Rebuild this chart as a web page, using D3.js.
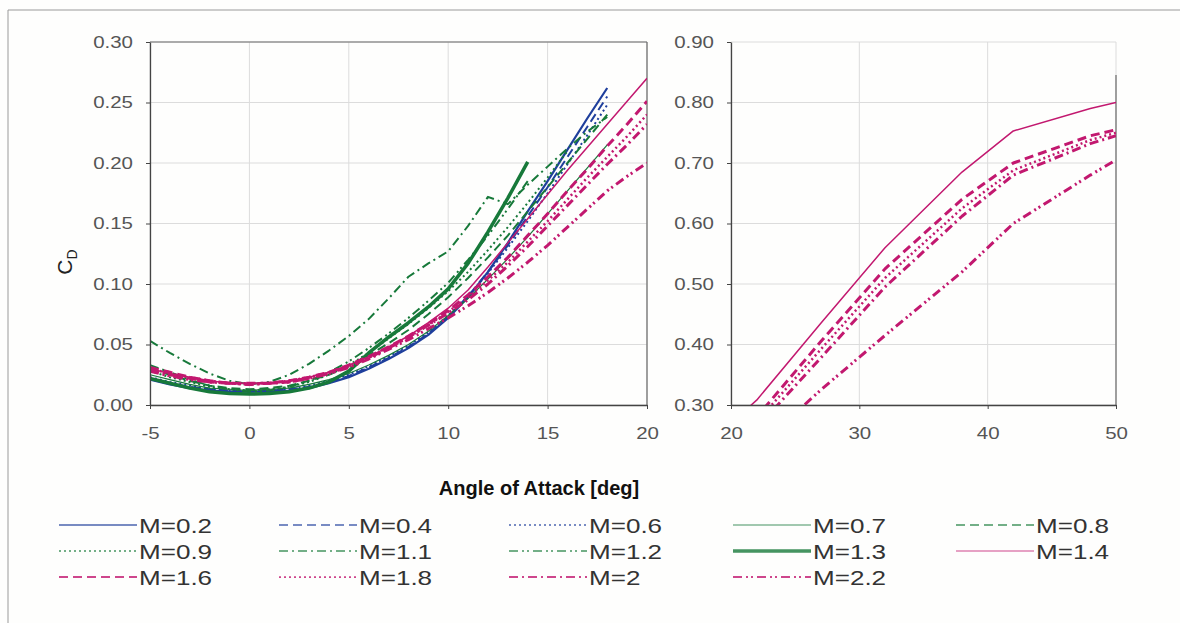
<!DOCTYPE html>
<html>
<head>
<meta charset="utf-8">
<script src="https://cdn.jsdelivr.net/npm/d3@7"></script>
<style>
  html, body { margin: 0; padding: 0; background: #fefefd; }
  svg { display: block; font-family: "Liberation Sans", Arial, sans-serif; }
</style>
</head>
<body>
<svg id="chart" width="1180" height="623"></svg>
<script>
// ---------- DATA ----------
const xLeft  = [-5,-4,-3,-2,-1,0,1,2,3,4,5,6,7,8,9,10,11,12,13,14,15,16,17,18,19,20];
const xRight = [20,22,27,32,38,42,48,50];

const leftXTicks  = [-5,0,5,10,15,20];
const leftYTicks  = [0,0.05,0.10,0.15,0.20,0.25,0.30];
const rightXTicks = [20,30,40,50];
const rightYTicks = [0.30,0.40,0.50,0.60,0.70,0.80,0.90];

const machLabels = ["M=0.2","M=0.4","M=0.6","M=0.7","M=0.8","M=0.9","M=1.1","M=1.2","M=1.3","M=1.4","M=1.6","M=1.8","M=2","M=2.2"];

// C_D values (left panel, starting at -5 deg)
const cdM02 = [0.021,0.017,0.014,0.012,0.011,0.011,0.011,0.012,0.014,0.018,0.023,0.030,0.038,0.047,0.058,0.072,0.089,0.110,0.134,0.160,0.185,0.211,0.237,0.262];
const cdM04 = [0.022,0.018,0.015,0.013,0.012,0.011,0.012,0.013,0.015,0.019,0.024,0.031,0.039,0.048,0.059,0.073,0.090,0.110,0.132,0.156,0.180,0.205,0.230,0.255];
const cdM06 = [0.023,0.019,0.016,0.013,0.012,0.012,0.012,0.013,0.016,0.020,0.025,0.032,0.040,0.049,0.060,0.074,0.090,0.109,0.130,0.152,0.175,0.199,0.223,0.248];
const cdM07 = [0.025,0.021,0.017,0.014,0.013,0.012,0.013,0.014,0.017,0.021,0.026,0.033,0.041,0.050,0.061,0.074,0.088,0.104,0.121,0.139,0.158,0.177,0.196,0.215];
const cdM08 = [0.030,0.025,0.020,0.016,0.014,0.013,0.014,0.016,0.020,0.025,0.032,0.041,0.051,0.062,0.075,0.089,0.105,0.122,0.140,0.160,0.180,0.200,0.220,0.240];
const cdM09 = [0.028,0.023,0.019,0.015,0.013,0.012,0.013,0.015,0.019,0.025,0.033,0.043,0.055,0.067,0.080,0.094,0.110,0.128,0.147,0.167,0.188,0.210];
const cdM11 = [0.053,0.043,0.034,0.026,0.020,0.017,0.019,0.025,0.034,0.045,0.057,0.071,0.088,0.106,0.117,0.127,0.148,0.172,0.166,0.182,0.197,0.212,0.226,0.238];
const cdM12 = [0.033,0.027,0.021,0.016,0.013,0.011,0.012,0.015,0.020,0.027,0.036,0.047,0.059,0.072,0.086,0.101,0.120,0.140,0.162,0.185];
const cdM13 = [0.022,0.018,0.014,0.011,0.0095,0.009,0.0095,0.011,0.014,0.019,0.028,0.043,0.056,0.068,0.081,0.096,0.117,0.143,0.171,0.201];
const cdM14 = [0.030,0.026,0.023,0.020,0.018,0.018,0.018,0.020,0.023,0.027,0.033,0.040,0.048,0.057,0.068,0.080,0.095,0.114,0.134,0.154,0.174,0.194,0.213,0.232,0.251,0.270];
const cdM16 = [0.031,0.027,0.023,0.020,0.018,0.018,0.018,0.020,0.023,0.027,0.033,0.040,0.048,0.057,0.067,0.078,0.091,0.106,0.122,0.140,0.158,0.177,0.195,0.214,0.232,0.251];
const cdM18 = [0.030,0.026,0.023,0.020,0.018,0.018,0.018,0.020,0.023,0.027,0.032,0.039,0.047,0.056,0.066,0.077,0.089,0.103,0.118,0.135,0.152,0.170,0.188,0.205,0.222,0.240];
const cdM20 = [0.029,0.025,0.022,0.019,0.018,0.017,0.018,0.019,0.022,0.026,0.032,0.039,0.047,0.056,0.066,0.076,0.087,0.100,0.115,0.131,0.148,0.165,0.182,0.199,0.215,0.232];
const cdM22 = [0.028,0.024,0.021,0.019,0.018,0.017,0.018,0.019,0.022,0.026,0.031,0.038,0.046,0.054,0.063,0.072,0.082,0.093,0.105,0.118,0.132,0.147,0.162,0.177,0.189,0.200];

// C_D values (right panel, 20..50 deg)
const cdHiM14 = [0.270,0.308,0.435,0.560,0.685,0.753,0.790,0.800];
const cdHiM16 = [0.251,0.280,0.405,0.525,0.640,0.700,0.745,0.755];
const cdHiM18 = [0.240,0.272,0.392,0.510,0.625,0.688,0.738,0.750];
const cdHiM20 = [0.232,0.262,0.378,0.495,0.612,0.680,0.732,0.745];
const cdHiM22 = [0.200,0.228,0.325,0.415,0.520,0.600,0.680,0.705];

// ---------- STYLES ----------
const BLUE = "#1f3f9c", GREEN = "#17793a", MAG = "#c2186f";
const DASH = "9,5", DOT = "2,3", DASHDOT = "9,4,2,4", DASHDOTDOT = "9,4,2,3,2,4";
const series = [
  {name: machLabels[0],  left: cdM02, right: null,    color: BLUE,  w: 2.2, dash: null},
  {name: machLabels[1],  left: cdM04, right: null,    color: BLUE,  w: 2,   dash: DASH},
  {name: machLabels[2],  left: cdM06, right: null,    color: BLUE,  w: 2,   dash: DOT},
  {name: machLabels[3],  left: cdM07, right: null,    color: GREEN, w: 1.2, dash: null},
  {name: machLabels[4],  left: cdM08, right: null,    color: GREEN, w: 2,   dash: DASH},
  {name: machLabels[5],  left: cdM09, right: null,    color: GREEN, w: 2,   dash: DOT},
  {name: machLabels[6],  left: cdM11, right: null,    color: GREEN, w: 2,   dash: DASHDOT},
  {name: machLabels[7],  left: cdM12, right: null,    color: GREEN, w: 2,   dash: DASHDOTDOT},
  {name: machLabels[8],  left: cdM13, right: null,    color: GREEN, w: 3.5, dash: null},
  {name: machLabels[9],  left: cdM14, right: cdHiM14, color: MAG,   w: 1.5, dash: null},
  {name: machLabels[10], left: cdM16, right: cdHiM16, color: MAG,   w: 3,   dash: DASH},
  {name: machLabels[11], left: cdM18, right: cdHiM18, color: MAG,   w: 2.5, dash: DOT},
  {name: machLabels[12], left: cdM20, right: cdHiM20, color: MAG,   w: 3,   dash: DASHDOT},
  {name: machLabels[13], left: cdM22, right: cdHiM22, color: MAG,   w: 3,   dash: DASHDOTDOT}
];

const svg = d3.select("#chart");
const fmt = d3.format(".2f");

// outer frame
svg.append("line").attr("x1", 8).attr("x2", 1180).attr("y1", 10).attr("y2", 10).attr("stroke", "#9a9a9a").attr("stroke-width", 1);
svg.append("line").attr("x1", 8).attr("x2", 8).attr("y1", 10).attr("y2", 623).attr("stroke", "#9a9a9a").attr("stroke-width", 1);

function panel(opts) {
  const x = d3.scaleLinear().domain(opts.xd).range([opts.x0, opts.x1]);
  const y = d3.scaleLinear().domain(opts.yd).range([opts.y0, opts.y1]);
  const g = svg.append("g");
  g.selectAll("line.gx").data(opts.xt).join("line")
    .attr("x1", d => x(d)).attr("x2", d => x(d)).attr("y1", opts.y0).attr("y2", opts.y1)
    .attr("stroke", "#dcdcdc").attr("stroke-width", 1);
  g.selectAll("line.gy").data(opts.yt).join("line")
    .attr("x1", opts.x0).attr("x2", opts.x1).attr("y1", d => y(d)).attr("y2", d => y(d))
    .attr("stroke", "#dcdcdc").attr("stroke-width", 1);
  if (opts.topBorder) g.append("line").attr("x1", opts.x0).attr("x2", opts.x1).attr("y1", opts.y1).attr("y2", opts.y1).attr("stroke", "#6a6a6a").attr("stroke-width", 1.2);
  g.append("line").attr("x1", opts.x1).attr("x2", opts.x1).attr("y1", opts.rightTop).attr("y2", opts.y0).attr("stroke", "#6a6a6a").attr("stroke-width", 1.2);

  const id = "clip" + opts.id;
  svg.append("clipPath").attr("id", id).append("rect")
    .attr("x", opts.x0).attr("y", opts.y1 - 2).attr("width", opts.x1 - opts.x0).attr("height", opts.y0 - opts.y1 + 2);
  const lg = svg.append("g").attr("clip-path", `url(#${id})`);
  const line = d3.line().x(d => x(d[0])).y(d => y(d[1]));
  series.forEach(s => {
    const vals = s[opts.key];
    if (!vals) return;
    const pts = vals.map((v, i) => [opts.xs[i], v]);
    lg.append("path").attr("d", line(pts)).attr("fill", "none")
      .attr("stroke", s.color).attr("stroke-width", s.w)
      .attr("stroke-dasharray", s.dash).attr("stroke-linejoin", "round");
  });

  const ax = svg.append("g").attr("transform", `translate(0,${opts.y0})`)
    .call(d3.axisBottom(x).tickValues(opts.xt).tickFormat(d => String(d)).tickSize(4).tickPadding(18).tickSizeOuter(0));
  const ay = svg.append("g").attr("transform", `translate(${opts.x0},0)`)
    .call(d3.axisLeft(y).tickValues(opts.yt).tickFormat(fmt).tickSize(4).tickPadding(opts.ypad).tickSizeOuter(0));
  [ax, ay].forEach(a => {
    a.select(".domain").attr("stroke", "#444").attr("stroke-width", 1.3);
    a.selectAll(".tick line").attr("stroke", "#444");
    a.selectAll("text").attr("font-size", 16.5).attr("fill", "#555")
      .attr("font-family", "Liberation Sans, Arial, sans-serif").classed("stretch", true);
  });
  return {x, y};
}

panel({id: "L", key: "left", xs: xLeft, xd: [-5, 20], yd: [0, 0.30], x0: 150, x1: 647, y0: 405, y1: 42,
       xt: leftXTicks, yt: leftYTicks, topBorder: true, rightTop: 42, ypad: 13});
panel({id: "R", key: "right", xs: xRight, xd: [20, 50], yd: [0.30, 0.90], x0: 731, x1: 1116, y0: 405, y1: 42,
       xt: rightXTicks, yt: rightYTicks, topBorder: false, rightTop: 75, ypad: 13});

// axis titles
svg.append("text").attr("x", 539).attr("y", 495).attr("text-anchor", "middle")
  .attr("font-size", 20).attr("font-weight", "bold").attr("fill", "#111")
  .text("Angle of Attack [deg]");
const cd = svg.append("text").attr("transform", "translate(72,262) rotate(-90)")
  .attr("text-anchor", "middle").attr("font-size", 21).attr("fill", "#222");
cd.append("tspan").text("C");
cd.append("tspan").attr("font-size", 14).attr("dy", 5).text("D");

// legend
const colText = [139, 359, 589, 813, 1036];
const rowY = [525, 551, 577];
series.forEach((s, i) => {
  const c = i % 5, r = Math.floor(i / 5);
  const tx = colText[c], ty = rowY[r];
  svg.append("line").attr("x1", tx - 80).attr("x2", tx - 2).attr("y1", ty).attr("y2", ty)
    .attr("stroke", s.color).attr("stroke-opacity", 0.8)
    .attr("stroke-width", s.w >= 3.5 ? 3.5 : Math.max(1.2, s.w * 0.7))
    .attr("stroke-dasharray", s.dash);
  svg.append("text").attr("x", tx).attr("y", ty + 8).attr("font-size", 21).attr("fill", "#333")
    .classed("stretch", true).text(s.name);
});

// horizontal stretch of the scanned-looking labels
svg.selectAll("text.stretch").each(function () {
  const len = this.getComputedTextLength();
  d3.select(this).attr("textLength", len * 1.24).attr("lengthAdjust", "spacingAndGlyphs");
});
</script>
</body>
</html>
